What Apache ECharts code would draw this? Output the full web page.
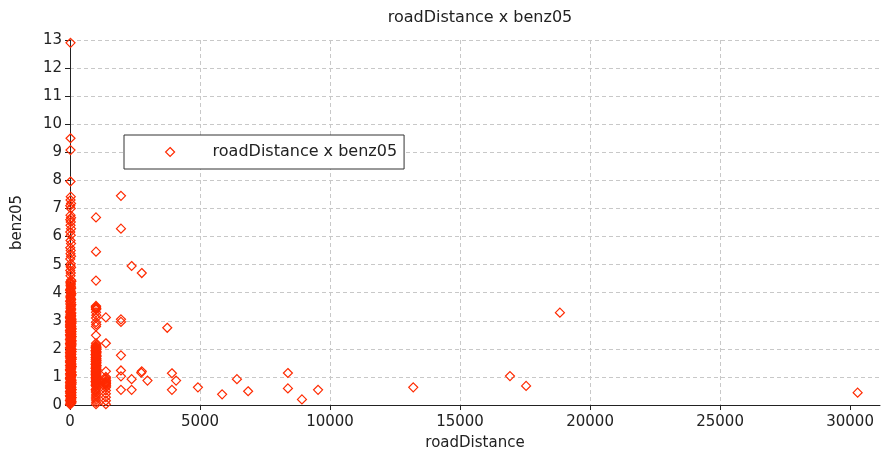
<!DOCTYPE html>
<html>
<head>
<meta charset="utf-8">
<script src="https://cdn.jsdelivr.net/npm/echarts@6/dist/echarts.min.js"></script>
<style>html,body{margin:0;padding:0;background:#fff}#c{width:882px;height:461px}</style>
</head>
<body>
<div id="c"></div>
<script>
const chartTitle = 'roadDistance x benz05';
const xName = 'roadDistance';
const yName = 'benz05';
const xTicks = [0, 5000, 10000, 15000, 20000, 25000, 30000];

// [roadDistance, benz05] pairs — column near roadDistance = 0
const col0 = [
 [0,0.02],[40,0.06],[20,0.1],[60,0.13],[0,0.17],[30,0.21],[50,0.25],[10,0.29],[0,0.33],[40,0.37],
 [20,0.41],[60,0.44],[0,0.48],[30,0.52],[50,0.56],[10,0.6],[0,0.64],[40,0.68],[20,0.72],[60,0.75],
 [0,0.79],[30,0.83],[50,0.87],[10,0.91],[0,0.95],[40,0.99],[20,1.03],[60,1.06],[0,1.1],[30,1.14],
 [50,1.18],[10,1.22],[0,1.26],[40,1.3],[20,1.34],[60,1.37],[0,1.41],[30,1.45],[50,1.49],[10,1.53],
 [0,1.57],[40,1.61],[20,1.65],[60,1.68],[0,1.72],[30,1.76],[50,1.8],[10,1.84],[0,1.88],[40,1.92],
 [20,1.96],[60,1.99],[0,2.03],[30,2.07],[50,2.11],[10,2.15],[0,2.19],[40,2.23],[20,2.27],[60,2.3],
 [0,2.34],[30,2.38],[50,2.42],[10,2.46],[0,2.5],[40,2.54],[20,2.58],[60,2.61],[0,2.65],[30,2.69],
 [50,2.73],[10,2.77],[0,2.81],[40,2.85],[20,2.89],[60,2.92],[0,2.96],[30,3.0],[50,3.04],[10,3.08],
 [0,3.12],[40,3.16],[20,3.2],[30,3.25],[10,3.3],[40,3.38],[20,3.45],[30,3.53],[10,3.6],[40,3.65],
 [20,3.72],[30,3.8],[10,3.85],[40,3.92],[20,4.0],[30,4.05],[10,4.12],[40,4.2],[20,4.25],[30,4.3],
 [10,4.38],[40,4.45],[20,4.6],[30,4.7],[10,4.79],[40,4.9],[20,4.95],[30,5.03],[10,5.2],[40,5.3],
 [20,5.39],[30,5.5],[10,5.6],[40,5.75],[20,5.86],[30,6.05],[10,6.16],[40,6.28],[20,6.4],[30,6.52],
 [10,6.6],[40,6.67],[20,6.76],[30,7.0],[10,7.1],[40,7.18],[20,7.3],[30,7.42],[20,7.96],[20,9.08],
 [20,9.5],[20,12.9]
];
// extra readings packed inside the same column (it renders as a solid bar)
const col0More = [
 [15,0.04],[55,0.08],[35,0.12],[5,0.15],[45,0.19],[25,0.23],[65,0.27],[15,0.31],[55,0.35],[35,0.39],
 [5,0.43],[45,0.46],[25,0.5],[65,0.54],[15,0.58],[55,0.62],[35,0.66],[5,0.7],[45,0.74],[25,0.77],
 [65,0.81],[15,0.85],[55,0.89],[35,0.93],[5,0.97],[45,1.01],[25,1.05],[65,1.08],[15,1.12],[55,1.16],
 [35,1.2],[5,1.24],[45,1.28],[25,1.32],[65,1.36],[15,1.39],[55,1.43],[35,1.47],[5,1.51],[45,1.55],
 [25,1.59],[65,1.63],[15,1.67],[55,1.7],[35,1.74],[5,1.78],[45,1.82],[25,1.86],[65,1.9],[15,1.94],
 [55,1.98],[35,2.01],[5,2.05],[45,2.09],[25,2.13],[65,2.17],[15,2.21],[55,2.25],[35,2.29],[5,2.32],
 [45,2.36],[25,2.4],[65,2.44],[15,2.48],[55,2.52],[35,2.56],[5,2.6],[45,2.63],[25,2.67],[65,2.71],
 [15,2.75],[55,2.79],[35,2.83],[5,2.87],[45,2.91],[25,2.94],[65,2.98],[15,3.02],[55,3.06],[35,3.1],
 [5,3.14],[45,3.18],[25,3.22],[55,3.28],[5,3.34],[45,3.42],[25,3.49],[55,3.57],[5,3.69],[45,3.76],
 [25,3.89],[55,3.97],[5,4.09],[45,4.16],[25,4.34],[55,4.41]
];

// column near roadDistance = 1000
const col1000 = [
 [1000,0.03],[1000,0.18],[1000,0.32],[1000,0.45],[990,0.55],[1010,0.66],[1000,0.72],[1020,0.78],
 [990,0.82],[1010,0.86],[1000,0.9],[1020,0.94],[990,0.98],[1010,1.02],[1000,1.06],[1020,1.1],
 [990,1.14],[1010,1.18],[1000,1.22],[1020,1.26],[990,1.3],[1010,1.34],[1000,1.38],[1020,1.42],
 [990,1.46],[1010,1.5],[1000,1.54],[1020,1.58],[990,1.62],[1010,1.66],[1000,1.7],[1020,1.74],
 [990,1.78],[1010,1.82],[1000,1.86],[1020,1.9],[990,1.94],[1010,1.98],[1000,2.02],[1020,2.06],
 [990,2.1],[1010,2.14],[1000,2.2],[1000,2.48],[1000,2.8],[1010,2.87],[1000,2.95],[1000,3.1],
 [1010,3.2],[1000,3.3],[1000,3.4],[1010,3.45],[1000,3.5],[1000,3.53],[1000,4.43],[1000,5.46],[1000,6.68]
];
const col1000More = [
 [1005,0.1],[995,0.25],[1005,0.38],[995,0.5],[1015,0.6],[985,0.7],[1005,0.76],[1015,0.8],
 [985,0.84],[1005,0.88],[1015,0.92],[985,0.96],[1005,1.0],[1015,1.04],[985,1.08],[1005,1.12],
 [1015,1.16],[985,1.2],[1005,1.24],[1015,1.28],[985,1.32],[1005,1.36],[1015,1.4],[985,1.44],
 [1005,1.48],[1015,1.52],[985,1.56],[1005,1.6],[1015,1.64],[985,1.68],[1005,1.72],[1015,1.76],
 [985,1.8],[1005,1.84],[1015,1.88],[985,1.92],[1005,1.96],[1015,2.0],[985,2.04],[1005,2.08],
 [1005,3.42],[995,3.48]
];

// column near roadDistance = 1400
const col1400 = [
 [1380,3.12],[1380,2.2],[1380,1.2],[1380,1.0],[1370,0.92],[1390,0.86],[1380,0.8],[1370,0.74],
 [1390,0.68],[1380,0.62],[1380,0.52],[1380,0.4],[1380,0.28],[1380,0.15],[1380,0.03],
 [1385,0.96],[1375,0.83],[1385,0.77],[1375,0.71]
];

// remaining scattered points
const rest = [
 [1960,7.45],[1960,6.28],[1960,3.05],[1960,2.96],[1960,1.77],[1960,1.23],[1960,1.02],[1960,0.54],
 [2370,4.95],[2760,4.7],[3740,2.75],[2370,0.92],[2370,0.54],[2740,1.15],[2760,1.2],[2980,0.87],
 [3920,1.13],[4080,0.87],[3920,0.54],[4920,0.63],[5850,0.38],[6420,0.92],[6850,0.49],[8380,1.14],
 [8380,0.59],[8920,0.2],[9540,0.54],[13200,0.63],[16920,1.03],[17540,0.68],[18840,3.29],[30290,0.44]
];

const points = col0.concat(col0More, col1000, col1000More, col1400, rest);

const RED = '#ff2a00';
const FONT = 'DejaVu Sans';
const chart = echarts.init(document.getElementById('c'), null, {renderer: 'canvas'});
chart.setOption({
  animation: false,
  backgroundColor: '#ffffff',
  title: {
    text: chartTitle,
    left: 475, textAlign: 'center', top: 5,
    textStyle: {fontFamily: FONT, fontSize: 16, fontWeight: 'normal', color: '#222'}
  },
  legend: {
    left: 124, top: 135,
    orient: 'horizontal',
    backgroundColor: '#fff',
    borderColor: '#333', borderWidth: 1,
    padding: [9, 7, 9, 41],
    itemWidth: 9, itemHeight: 9,
    textStyle: {fontFamily: FONT, fontSize: 16, color: '#222', padding: [0, 0, 0, 33]},
    data: [{name: chartTitle, icon: 'diamond', itemStyle: {color: 'rgba(0,0,0,0)', borderColor: RED, borderWidth: 1.2}}]
  },
  grid: {left: 70, right: 2, top: 40, bottom: 56, containLabel: false},
  xAxis: {
    type: 'value', min: 0, max: 31150, interval: 5000,
    name: xName, nameLocation: 'middle', nameGap: 31,
    nameTextStyle: {fontFamily: FONT, fontSize: 15, color: '#222'},
    axisLine: {show: true, onZero: false, lineStyle: {color: '#222', width: 1}},
    axisTick: {show: true, length: 5, lineStyle: {color: '#222'}, customValues: xTicks},
    axisLabel: {fontFamily: FONT, fontSize: 15, color: '#222', margin: 10, customValues: xTicks,
      formatter: function (v) { return String(v); }},
    splitLine: {show: true, showMaxLine: false, lineStyle: {color: '#c8c8c8', type: [4, 3], width: 1}}
  },
  yAxis: {
    type: 'value', min: 0, max: 13, interval: 1,
    name: yName, nameLocation: 'middle', nameGap: 45, nameRotate: 90,
    nameTextStyle: {fontFamily: FONT, fontSize: 15, color: '#222'},
    axisLine: {show: true, onZero: false, lineStyle: {color: '#222', width: 1}},
    axisTick: {show: true, length: 5, lineStyle: {color: '#222'}},
    axisLabel: {fontFamily: FONT, fontSize: 15, color: '#222', margin: 8},
    splitLine: {show: true, lineStyle: {color: '#c8c8c8', type: [4, 3], width: 1}}
  },
  series: [{
    name: chartTitle,
    type: 'scatter',
    symbol: 'diamond',
    symbolSize: 9,
    data: points,
    itemStyle: {color: 'rgba(0,0,0,0)', borderColor: RED, borderWidth: 1.2, opacity: 1},
    emphasis: {disabled: true}
  }]
});
</script>
</body>
</html>
